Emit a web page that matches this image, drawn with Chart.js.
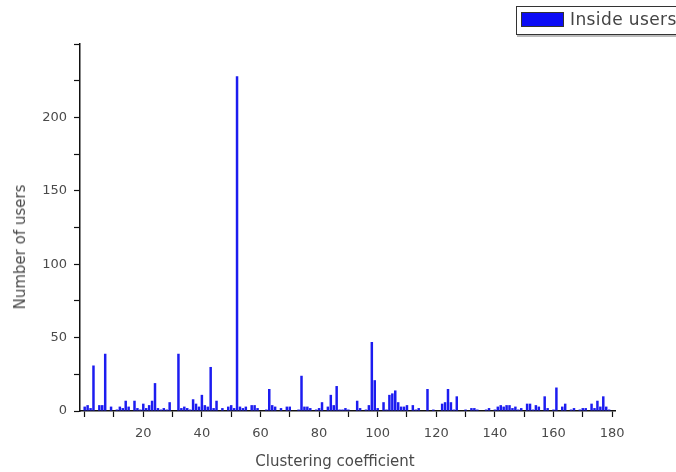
<!DOCTYPE html>
<html>
<head>
<meta charset="utf-8">
<script src="https://cdn.jsdelivr.net/npm/chart.js@4/dist/chart.umd.min.js"></script>
<style>
  html, body { margin: 0; padding: 0; background: #fff; overflow: hidden; }
  #wrap { position: relative; width: 676px; height: 472px; overflow: hidden; }
  #chart { position: absolute; left: 0; top: 0; }
  .axis-title { position: absolute; font-family: "DejaVu Sans", sans-serif; font-size: 15px; color: #4a4a4a; white-space: nowrap; }
  #ytitle { left: 20px; top: 247px; transform: translate(-50%, -50%) rotate(-90deg); }
  #xtitle { left: 335px; top: 461px; transform: translate(-50%, -50%); }
  #legend { position: absolute; left: 516px; top: 6px; width: 200px; height: 27px; border: 1px solid #333;
            box-shadow: 1px 2px 0 #bbb; background: #fff; }
  #legend .swatch { position: absolute; left: 4px; top: 5px; width: 43px; height: 15px; background: #0c0cf5; border: 1px solid #333; box-sizing: border-box; }
  #legend .label { position: absolute; left: 53px; top: 2px; font-family: "DejaVu Sans", sans-serif; font-size: 17px; letter-spacing: 0.4px; color: #444; white-space: nowrap; }
</style>
</head>
<body>
<div id="wrap">
  <canvas id="chart" width="676" height="472"></canvas>
  <div class="axis-title" id="ytitle">Number of users</div>
  <div class="axis-title" id="xtitle">Clustering coefficient</div>
  <div id="legend"><div class="swatch"></div><div class="label">Inside users</div></div>
</div>
<script>
// Clustering coefficient bins 0..180 and the number of users in each bin
const seriesName = 'Inside users';

const usersPerBin = [
  3, 4, 2, 31, 0, 4, 4, 39, 0, 3,        // 0-9
  0, 1, 3, 2, 7, 3, 0, 7, 2, 1,          // 10-19
  5, 2, 4, 7, 19, 2, 1, 2, 1, 6,         // 20-29
  0, 0, 39, 2, 3, 2, 1, 8, 5, 3,         // 30-39
  11, 4, 3, 30, 2, 7, 0, 2, 0, 3,        // 40-49
  4, 2, 228, 3, 2, 3, 0, 4, 4, 2,        // 50-59
  0, 0, 1, 15, 4, 3, 0, 2, 0, 3,         // 60-69
  3, 0, 0, 1, 24, 3, 3, 2, 0, 1,         // 70-79
  2, 6, 0, 3, 11, 4, 17, 1, 1, 2,        // 80-89
  1, 0, 0, 7, 2, 0, 1, 4, 47, 21,        // 90-99
  2, 0, 6, 1, 11, 12, 14, 6, 3, 3,       // 100-109
  4, 0, 4, 1, 2, 0, 0, 15, 0, 1,         // 110-119
  0, 0, 5, 6, 15, 6, 1, 10, 0, 0,        // 120-129
  1, 0, 2, 2, 1, 0, 0, 1, 2, 0,          // 130-139
  1, 3, 4, 3, 4, 4, 2, 3, 1, 2,          // 140-149
  0, 5, 5, 1, 4, 3, 0, 10, 2, 0,         // 150-159
  1, 16, 0, 3, 5, 0, 1, 2, 0, 1,         // 160-169
  2, 2, 0, 5, 2, 7, 3, 10, 3, 1,         // 170-179
  0                                      // 180
];
const coefficientBins = usersPerBin.map((_, i) => i);

// axis ticks: minor every 10 / 25, labelled ones listed separately
const xTickValues = [0, 10, 20, 30, 40, 50, 60, 70, 80, 90, 100, 110, 120, 130, 140, 150, 160, 170, 180];
const xTickLabels = [20, 40, 60, 80, 100, 120, 140, 160, 180];
const yTickValues = [0, 25, 50, 75, 100, 125, 150, 175, 200, 225, 250];
const yTickLabels = [0, 50, 100, 150, 200];

const tickFont = { family: 'DejaVu Sans', size: 13 };
const textColor = '#4a4a4a';

new Chart(document.getElementById('chart'), {
  type: 'bar',
  data: {
    datasets: [{
      label: seriesName,
      data: coefficientBins.map((c, i) => ({ x: c, y: usersPerBin[i] })),
      backgroundColor: '#1c1cf0',
      borderWidth: 0,
      barPercentage: 0.85,
      categoryPercentage: 1.0
    }]
  },
  options: {
    responsive: false,
    animation: false,
    devicePixelRatio: 1,
    layout: { padding: { left: 0, top: 44, right: 61, bottom: 0 } },
    plugins: { legend: { display: false }, tooltip: { enabled: false } },
    scales: {
      x: {
        type: 'linear',
        offset: false,
        min: -1.6,
        max: 181,
        afterBuildTicks: s => { s.ticks = xTickValues.map(v => ({ value: v })); },
        afterFit: s => { s.height = 61; },
        ticks: {
          autoSkip: false,
          maxRotation: 0,
          padding: 9,
          color: textColor,
          font: tickFont,
          callback: v => (xTickLabels.includes(v) ? String(v) : '')
        },
        grid: { display: true, offset: false, drawOnChartArea: false, drawTicks: true, tickLength: 6, tickColor: '#111', tickWidth: 1.2 },
        border: { display: true, color: '#111', width: 1.5 }
      },
      y: {
        type: 'linear',
        min: 0,
        max: 250,
        afterBuildTicks: s => { s.ticks = yTickValues.map(v => ({ value: v })); },
        afterFit: s => { s.width = 80; },
        ticks: {
          autoSkip: false,
          padding: 7,
          color: textColor,
          font: tickFont,
          callback: v => (yTickLabels.includes(v) ? String(v) : '')
        },
        grid: { display: true, drawOnChartArea: false, drawTicks: true, tickLength: 6, tickColor: '#111', tickWidth: 1.2 },
        border: { display: true, color: '#111', width: 1.5 }
      }
    }
  }
});
</script>
</body>
</html>
